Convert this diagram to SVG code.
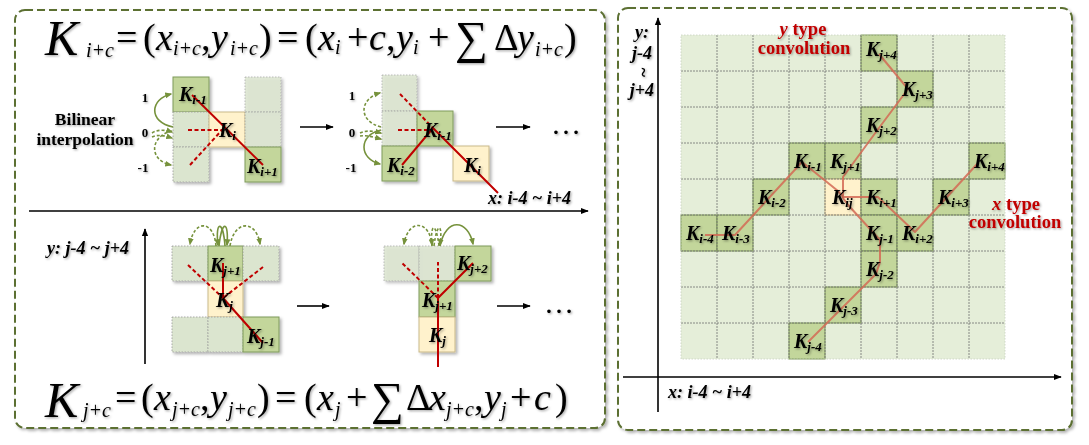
<svg xmlns="http://www.w3.org/2000/svg" width="1089" height="445" viewBox="0 0 1089 445">
<defs>
<style>
.serif{font-family:"Liberation Serif","Times New Roman",serif}
.eq{font-family:"Liberation Serif","Times New Roman",serif;font-size:38px;font-style:italic;fill:#000}
.up{font-style:normal}
.sb{font-size:20px}
.k{font-family:"Liberation Serif","Times New Roman",serif;font-size:20px;font-weight:bold;font-style:italic;fill:#000}
.num{font-family:"Liberation Serif","Times New Roman",serif;font-size:13px;font-weight:bold;fill:#000;text-anchor:middle}
.lbl{font-family:"Liberation Serif","Times New Roman",serif;font-size:17.5px;font-weight:bold;fill:#000;text-anchor:middle}
.ax{font-family:"Liberation Serif","Times New Roman",serif;font-size:18px;font-weight:bold;font-style:italic;fill:#000}
.red{font-family:"Liberation Serif","Times New Roman",serif;font-size:18.5px;font-weight:bold;fill:#c00000;text-anchor:middle}
.panel{fill:#fff;stroke:#5b6f32;stroke-width:2;stroke-dasharray:8 4}
.lc{fill:#dbe5cf;stroke:#9a9a9a;stroke-width:0.8;stroke-dasharray:1.5 1.5}
.dc{fill:#c3d69b;stroke:#7f9a5a;stroke-width:1}
.yc{fill:#fff2cc;stroke:#c9b98a;stroke-width:1}
.gs{fill:none;stroke:#76923c;stroke-width:1.6}
.gd{fill:none;stroke:#76923c;stroke-width:1.6;stroke-dasharray:3 2}
.rs{fill:none;stroke:#c00000;stroke-width:2}
.rd{fill:none;stroke:#c00000;stroke-width:2;stroke-dasharray:4 2.5}
.ba{fill:none;stroke:#000;stroke-width:1.6}
.rp{fill:none;stroke:#d46a55;stroke-width:2;stroke-opacity:0.85;stroke-linejoin:round}
.gl{stroke:#6f6f6f;stroke-width:0.8;stroke-dasharray:2 1}
</style>
<filter id="ts" x="-20%" y="-20%" width="140%" height="140%"><feDropShadow dx="1.2" dy="1.2" stdDeviation="0.8" flood-color="#000" flood-opacity="0.35"/></filter>
<filter id="bs" x="-5%" y="-5%" width="110%" height="110%"><feDropShadow dx="2" dy="2" stdDeviation="1.5" flood-color="#000" flood-opacity="0.3"/></filter>
<marker id="ga" viewBox="0 0 10 10" refX="8" refY="5" markerWidth="4.5" markerHeight="4.5" orient="auto"><path d="M0,1 L10,5 L0,9 z" fill="#76923c"/></marker>
<marker id="bk" viewBox="0 0 10 10" refX="9" refY="5" markerWidth="5" markerHeight="5" orient="auto"><path d="M0,1 L10,5 L0,9 z" fill="#000"/></marker>
</defs>

<g id="panel-left"><rect class="panel" x="15" y="10" width="590" height="418" rx="10" filter="url(#bs)"/></g>
<g id="panel-right"><rect class="panel" x="618" y="8" width="454" height="422" rx="10" filter="url(#bs)"/></g>

<g id="formula-top" filter="url(#ts)">
<text class="eq">
<tspan x="45" y="55" font-size="50">K</tspan>
<tspan x="86" y="57" class="sb">i+c</tspan>
<tspan x="116" y="50" class="up">=</tspan>
<tspan x="143" y="50" class="up">(</tspan>
<tspan x="156" y="50">x</tspan>
<tspan x="173" y="55" class="sb">i+c</tspan>
<tspan x="201" y="50" class="up">,</tspan>
<tspan x="211" y="50">y</tspan>
<tspan x="230" y="55" class="sb">i+c</tspan>
<tspan x="259" y="50" class="up">)</tspan>
<tspan x="277" y="50" class="up">=</tspan>
<tspan x="305" y="50" class="up">(</tspan>
<tspan x="318" y="50">x</tspan>
<tspan x="335" y="54" class="sb">i</tspan>
<tspan x="347" y="50" class="up">+</tspan>
<tspan x="369" y="50">c</tspan>
<tspan x="386" y="50" class="up">,</tspan>
<tspan x="396" y="50">y</tspan>
<tspan x="413" y="54" class="sb">i</tspan>
<tspan x="428" y="50" class="up">+</tspan>
<tspan x="455" y="53" class="up" font-size="46">∑</tspan>
<tspan x="494" y="50" class="up">Δ</tspan>
<tspan x="517" y="50">y</tspan>
<tspan x="535" y="56" class="sb">i+c</tspan>
<tspan x="564" y="50" class="up">)</tspan>
</text>
</g>

<g id="formula-bottom" filter="url(#ts)">
<text class="eq">
<tspan x="45" y="417" font-size="50">K</tspan>
<tspan x="83" y="417" class="sb">j+c</tspan>
<tspan x="115" y="410" class="up">=</tspan>
<tspan x="141" y="410" class="up">(</tspan>
<tspan x="154" y="410">x</tspan>
<tspan x="172" y="416" class="sb">j+c</tspan>
<tspan x="200" y="410" class="up">,</tspan>
<tspan x="210" y="410">y</tspan>
<tspan x="228" y="416" class="sb">j+c</tspan>
<tspan x="257" y="410" class="up">)</tspan>
<tspan x="275" y="410" class="up">=</tspan>
<tspan x="304" y="410" class="up">(</tspan>
<tspan x="317" y="410">x</tspan>
<tspan x="335" y="416" class="sb">j</tspan>
<tspan x="346" y="410" class="up">+</tspan>
<tspan x="371" y="414" class="up" font-size="46">∑</tspan>
<tspan x="406" y="410" class="up">Δ</tspan>
<tspan x="429" y="410">x</tspan>
<tspan x="446" y="416" class="sb">j+c</tspan>
<tspan x="474" y="410" class="up">,</tspan>
<tspan x="484" y="410">y</tspan>
<tspan x="501" y="416" class="sb">j</tspan>
<tspan x="510" y="410" class="up">+</tspan>
<tspan x="534" y="410">c</tspan>
<tspan x="555" y="410" class="up">)</tspan>
</text>
</g>

<g id="label-bilinear" filter="url(#ts)">
<text class="lbl" x="85" y="125">Bilinear</text>
<text class="lbl" x="85" y="145">interpolation</text>
</g>
<g id="x-step1" filter="url(#bs)">
<rect class="dc" x="173" y="77" width="36" height="35"/>
<rect class="lc" x="173" y="112" width="36" height="35"/>
<rect class="lc" x="173" y="147" width="36" height="35"/>
<rect class="yc" x="209" y="112" width="36" height="35"/>
<rect class="lc" x="245" y="77" width="36" height="35" opacity="0.8"/>
<rect class="lc" x="245" y="112" width="36" height="35" opacity="0.8"/>
<rect class="dc" x="245" y="147" width="36" height="35"/>
</g>
<g id="x-step1-labels" filter="url(#ts)">
<text class="num" x="145" y="102">1</text>
<text class="num" x="145" y="137">0</text>
<text class="num" x="143" y="172">-1</text>
</g>

<g id="x-step2" filter="url(#bs)">
<rect class="lc" x="382" y="75" width="35" height="36" opacity="0.8"/>
<rect class="lc" x="382" y="111" width="35" height="35" opacity="0.8"/>
<rect class="dc" x="382" y="146" width="35" height="35"/>
<rect class="dc" x="417" y="111" width="36" height="35"/>
<rect class="yc" x="453" y="146" width="36" height="35"/>
</g>
<g id="x-step2-labels" filter="url(#ts)">
<text class="num" x="352" y="100">1</text>
<text class="num" x="352" y="137">0</text>
<text class="num" x="351" y="172">-1</text>
</g>

<g id="y-step1" filter="url(#bs)">
<rect class="lc" x="172" y="246" width="36" height="35"/>
<rect class="dc" x="208" y="246" width="35" height="35"/>
<rect class="lc" x="243" y="246" width="36" height="35"/>
<rect class="yc" x="208" y="281" width="35" height="36"/>
<rect class="lc" x="172" y="317" width="36" height="35"/>
<rect class="lc" x="208" y="317" width="35" height="35"/>
<rect class="dc" x="243" y="317" width="36" height="35"/>
</g>

<g id="y-step2" filter="url(#bs)">
<rect class="lc" x="384" y="246" width="35" height="35" opacity="0.8"/>
<rect class="lc" x="419" y="246" width="36" height="35" opacity="0.8"/>
<rect class="dc" x="455" y="246" width="36" height="35"/>
<rect class="dc" x="419" y="281" width="36" height="36"/>
<rect class="yc" x="419" y="317" width="36" height="35"/>
</g>

<g id="grid">
<rect x="681" y="35" width="324" height="324" fill="#e5eed9"/>
<rect class="dc" stroke="none" x="861" y="35" width="36" height="36"/>
<rect class="dc" stroke="none" x="897" y="71" width="36" height="36"/>
<rect class="dc" stroke="none" x="861" y="107" width="36" height="36"/>
<rect class="dc" stroke="none" x="789" y="143" width="36" height="36"/>
<rect class="dc" stroke="none" x="825" y="143" width="36" height="36"/>
<rect class="dc" stroke="none" x="969" y="143" width="36" height="36"/>
<rect class="dc" stroke="none" x="753" y="179" width="36" height="36"/>
<rect class="yc" stroke="none" x="825" y="179" width="36" height="36"/>
<rect class="dc" stroke="none" x="861" y="179" width="36" height="36"/>
<rect class="dc" stroke="none" x="933" y="179" width="36" height="36"/>
<rect class="dc" stroke="none" x="681" y="215" width="36" height="36"/>
<rect class="dc" stroke="none" x="717" y="215" width="36" height="36"/>
<rect class="dc" stroke="none" x="861" y="215" width="36" height="36"/>
<rect class="dc" stroke="none" x="897" y="215" width="36" height="36"/>
<rect class="dc" stroke="none" x="861" y="251" width="36" height="36"/>
<rect class="dc" stroke="none" x="825" y="287" width="36" height="36"/>
<rect class="dc" stroke="none" x="789" y="323" width="36" height="36"/>
<g class="gl">
<line x1="717" y1="35" x2="717" y2="359"/><line x1="753" y1="35" x2="753" y2="359"/><line x1="789" y1="35" x2="789" y2="359"/><line x1="825" y1="35" x2="825" y2="359"/><line x1="861" y1="35" x2="861" y2="359"/><line x1="897" y1="35" x2="897" y2="359"/><line x1="933" y1="35" x2="933" y2="359"/><line x1="969" y1="35" x2="969" y2="359"/>
<line x1="681" y1="71" x2="1005" y2="71"/><line x1="681" y1="107" x2="1005" y2="107"/><line x1="681" y1="143" x2="1005" y2="143"/><line x1="681" y1="179" x2="1005" y2="179"/><line x1="681" y1="215" x2="1005" y2="215"/><line x1="681" y1="251" x2="1005" y2="251"/><line x1="681" y1="287" x2="1005" y2="287"/><line x1="681" y1="323" x2="1005" y2="323"/>
</g>
<rect x="681" y="35" width="324" height="324" fill="none" stroke="#c8d0c0" stroke-width="0.8" stroke-dasharray="1.5 1.5"/>
</g>

<g id="connectors">
<line class="ba" x1="29" y1="211" x2="588" y2="211" stroke-width="2.2" marker-end="url(#bk)"/>
<line class="ba" x1="300" y1="127" x2="333" y2="127" marker-end="url(#bk)"/>
<line class="ba" x1="496" y1="127" x2="530" y2="127" marker-end="url(#bk)"/>
<line class="ba" x1="297" y1="306" x2="329" y2="306" marker-end="url(#bk)"/>
<line class="ba" x1="497" y1="306" x2="530" y2="306" marker-end="url(#bk)"/>
<line class="ba" x1="145" y1="364" x2="145" y2="229" stroke-width="2" marker-end="url(#bk)"/>
<line class="ba" x1="658" y1="412" x2="658" y2="18" stroke-width="2.2" marker-end="url(#bk)"/>
<line class="ba" x1="623" y1="377" x2="1061" y2="377" stroke-width="2.2" marker-end="url(#bk)"/>

<path class="gs" d="M173,127 C148,122 150,99 171,94" marker-end="url(#ga)"/>
<path class="gd" d="M152,133 C158,129 166,130 172,132" marker-end="url(#ga)"/>
<path class="gd" d="M152,137 C158,134 166,136 172,138" marker-end="url(#ga)"/>
<path class="gd" d="M172,131 C150,136 148,160 171,165" marker-end="url(#ga)"/>
<path class="gd" d="M381,127 C358,121 359,99 380,93" marker-end="url(#ga)"/>
<path class="gd" d="M360,133 C366,130 374,131 381,133" marker-end="url(#ga)"/>
<path class="gd" d="M360,136 C366,135 374,137 381,139" marker-end="url(#ga)"/>
<path class="gs" d="M381,130 C358,135 359,159 380,164" marker-end="url(#ga)"/>
<path class="gd" d="M216,246 C214,220 194,219 190,244" marker-end="url(#ga)"/>
<path class="gd" d="M230,246 C234,220 256,219 260,244" marker-end="url(#ga)"/>
<path class="gs" d="M225,246 C223,219 215,221 218,245" marker-end="url(#ga)"/>
<path class="gs" d="M219,246 C222,219 229,221 227,245" marker-end="url(#ga)"/>
<path class="gd" d="M432,246 C430,219 408,219 404,244" marker-end="url(#ga)"/>
<path class="gd" d="M439,246 C436,221 430,223 432,245" marker-end="url(#ga)"/>
<path class="gd" d="M434,246 C437,221 443,223 440,245" marker-end="url(#ga)"/>
<path class="gs" d="M440,246 C446,217 468,219 473,244" marker-end="url(#ga)"/>

<line class="rs" x1="192" y1="95" x2="263" y2="165"/>
<line class="rd" x1="188" y1="130" x2="222" y2="130"/>
<line class="rd" x1="190" y1="165" x2="222" y2="130"/>
<line class="rd" x1="400" y1="94" x2="433" y2="128"/>
<line class="rd" x1="398" y1="130" x2="433" y2="130"/>
<polyline class="rs" points="402,165 433,128 498,193"/>
<polyline class="rs" points="223,263 223,298 263,343"/>
<line class="rd" x1="188" y1="265" x2="223" y2="298"/>
<line class="rd" x1="263" y1="267" x2="223" y2="298"/>
<polyline class="rs" points="438,367 438,298 473,263"/>
<line class="rd" x1="438" y1="298" x2="438" y2="262"/>
<line class="rd" x1="438" y1="298" x2="402" y2="263"/>

<polyline class="rp" points="705,235 735,235 802,162 838,191 843,197 878,197 915,232 978,163"/>
<polyline class="rp" points="808,342 876,274 880,262 880,240 849,206 843,198 843,177 876,132 908,89 879,54"/>
</g>

<g id="labels-left" filter="url(#ts)">
<text class="k" x="179" y="101">K<tspan dy="3" font-size="13">i-1</tspan></text>
<text class="k" x="219" y="137">K<tspan dy="3" font-size="13">i</tspan></text>
<text class="k" x="247" y="173">K<tspan dy="3" font-size="13">i+1</tspan></text>
<text class="k" x="424" y="137">K<tspan dy="3" font-size="13">i-1</tspan></text>
<text class="k" x="387" y="172">K<tspan dy="3" font-size="13">i-2</tspan></text>
<text class="k" x="464" y="172">K<tspan dy="3" font-size="13">i</tspan></text>
<text class="k" x="210" y="272">K<tspan dy="3" font-size="13">j+1</tspan></text>
<text class="k" x="216" y="307">K<tspan dy="3" font-size="13">j</tspan></text>
<text class="k" x="247" y="343">K<tspan dy="3" font-size="13">j-1</tspan></text>
<text class="k" x="457" y="270">K<tspan dy="3" font-size="13">j+2</tspan></text>
<text class="k" x="422" y="307">K<tspan dy="3" font-size="13">j+1</tspan></text>
<text class="k" x="429" y="342">K<tspan dy="3" font-size="13">j</tspan></text>
</g>

<g id="labels-grid" filter="url(#ts)">
<text class="k" x="866" y="56">K<tspan dy="3" font-size="13">j+4</tspan></text>
<text class="k" x="902" y="96">K<tspan dy="3" font-size="13">j+3</tspan></text>
<text class="k" x="866" y="132">K<tspan dy="3" font-size="13">j+2</tspan></text>
<text class="k" x="794" y="168">K<tspan dy="3" font-size="13">i-1</tspan></text>
<text class="k" x="830" y="168">K<tspan dy="3" font-size="13">j+1</tspan></text>
<text class="k" x="974" y="168">K<tspan dy="3" font-size="13">i+4</tspan></text>
<text class="k" x="758" y="204">K<tspan dy="3" font-size="13">i-2</tspan></text>
<text class="k" x="832" y="204">K<tspan dy="3" font-size="13">ij</tspan></text>
<text class="k" x="866" y="204">K<tspan dy="3" font-size="13">i+1</tspan></text>
<text class="k" x="938" y="204">K<tspan dy="3" font-size="13">i+3</tspan></text>
<text class="k" x="686" y="240">K<tspan dy="3" font-size="13">i-4</tspan></text>
<text class="k" x="722" y="240">K<tspan dy="3" font-size="13">i-3</tspan></text>
<text class="k" x="866" y="240">K<tspan dy="3" font-size="13">j-1</tspan></text>
<text class="k" x="902" y="240">K<tspan dy="3" font-size="13">i+2</tspan></text>
<text class="k" x="866" y="276">K<tspan dy="3" font-size="13">j-2</tspan></text>
<text class="k" x="830" y="312">K<tspan dy="3" font-size="13">j-3</tspan></text>
<text class="k" x="794" y="348">K<tspan dy="3" font-size="13">j-4</tspan></text>
</g>

<g id="axis-labels" filter="url(#ts)">
<text class="ax" x="488" y="204">x: i-4 ~ i+4</text>
<text class="ax" x="47" y="254">y: j-4 ~ j+4</text>
<text class="ax" x="668" y="398">x: i-4 ~ i+4</text>
<text class="ax" text-anchor="middle" x="642" y="38">y:</text>
<text class="ax" text-anchor="middle" x="642" y="59">j-4</text>
<text class="ax" text-anchor="middle" transform="translate(642,72) rotate(90)" x="0" y="5" font-size="14">~</text>
<text class="ax" text-anchor="middle" x="642" y="96">j+4</text>
<text class="serif" x="551" y="134" font-size="30">…</text>
<text class="serif" x="544" y="313" font-size="30">…</text>
</g>
<g id="note-y" filter="url(#ts)">
<text class="red" x="803" y="35"><tspan font-style="italic">y</tspan> type</text>
<text class="red" x="804" y="54">convolution</text>
</g>
<g id="note-x" filter="url(#ts)">
<text class="red" x="1016" y="210"><tspan font-style="italic">x</tspan> type</text>
<text class="red" x="1015" y="228">convolution</text>
</g>
</svg>
